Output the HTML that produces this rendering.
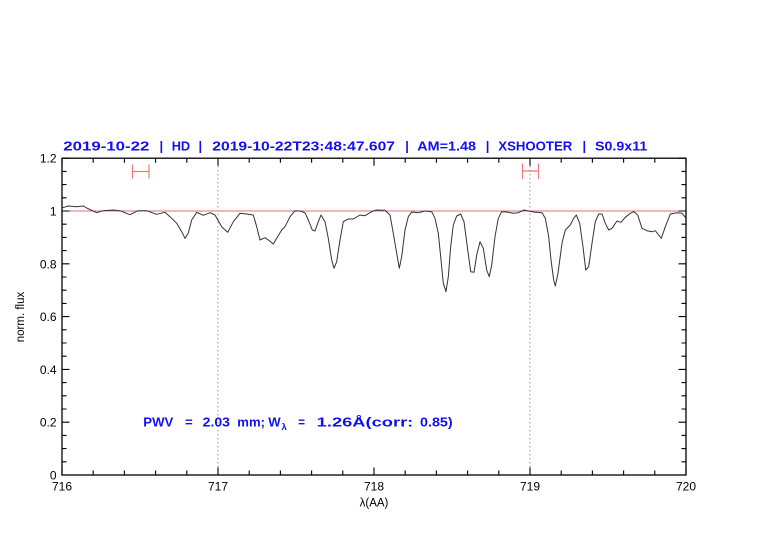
<!DOCTYPE html>
<html>
<head>
<meta charset="utf-8">
<style>
  html, body { margin: 0; padding: 0; background: #ffffff; }
  svg { display: block; }
  text { font-family: "Liberation Sans", "DejaVu Sans", sans-serif; }
</style>
</head>
<body>
<svg width="782" height="542" viewBox="0 0 782 542" xmlns="http://www.w3.org/2000/svg">
  <rect width="782" height="542" fill="#ffffff"/>

  <!-- Title -->
  <g font-size="13" font-weight="bold" fill="#1010f0">
    <text x="63.3" y="150.3" textLength="86" lengthAdjust="spacingAndGlyphs">2019-10-22</text>
    <text x="159.5" y="150.3">|</text>
    <text x="171.7" y="150.3" textLength="18.5" lengthAdjust="spacingAndGlyphs">HD</text>
    <text x="198.5" y="150.3">|</text>
    <text x="212.3" y="150.3" textLength="182.7" lengthAdjust="spacingAndGlyphs">2019-10-22T23:48:47.607</text>
    <text x="405.2" y="150.3">|</text>
    <text x="417.3" y="150.3" textLength="58.7" lengthAdjust="spacingAndGlyphs">AM=1.48</text>
    <text x="485.8" y="150.3">|</text>
    <text x="498.3" y="150.3" textLength="74" lengthAdjust="spacingAndGlyphs">XSHOOTER</text>
    <text x="582.5" y="150.3">|</text>
    <text x="595" y="150.3" textLength="52.3" lengthAdjust="spacingAndGlyphs">S0.9x11</text>
  </g>

  <!-- error bars -->
  <g stroke="#f07878" stroke-width="1.2" fill="none">
    <path d="M132.5 171.5H149 M132.5 164.5V178.5 M149 164.5V178.5"/>
    <path d="M522.5 171H538.5 M522.5 163.5V179 M538.5 163.5V179"/>
  </g>

  <!-- dotted vertical lines -->
  <g stroke="#555" stroke-width="0.9" stroke-dasharray="1 3" fill="none">
    <path d="M218 158.2V475 M530 158.2V475"/>
  </g>

  <!-- reference line at 1 -->
  <path d="M62 211H686" stroke="#e07070" stroke-width="1" fill="none"/>

  <!-- spectrum -->
  <polyline fill="none" stroke="#333333" stroke-width="1" stroke-linejoin="round" points="
62.7,207.7 68.3,206 76.7,206.7 83.3,206 86.7,208 96.7,212.7 103,210.7 113,210 120,210.7 130,214.7 138,210.7 146.7,210.7 156.7,214.3 165,212.3 170,216.7 176.7,223.3 181.7,231.7 185,238.3 188.3,233 191.7,220 196.7,212.3 203.3,215.3 210,212.7 215,215 221.7,226.7 227.7,232.3 233.3,221.7 240,213.3 246.7,214 253.3,215 256.7,226.7 260,240 265,237.7 268.3,240 273.3,244 276.7,238.3 281.7,230 285,226.7 290,216.7 295,210.7 300,211 305,212.7 308.3,220 312.3,230 315,231 318.3,221.7 321,215 325,221.7 328.3,238.3 331.7,260 334,268.3 336.7,261.7 340,240 343.3,221.7 348.3,219 353.3,219 360,215 365,215.7 370,212.7 373.3,211 376.7,210 385,210.3 390,215 393.3,233.3 396.7,253.3 399.3,268.3 401.7,256.7 405,230 408.3,216.7 411.7,212 418.3,212.7 425,211 431.7,211.7 435,218.3 438.3,233.3 440.7,256.7 443.3,283.3 446,291.7 448.3,276.7 450.7,246.7 453.3,225 456.7,216 460.7,214 464,221.7 467.3,246.7 470.7,271.7 474,272.3 476.7,255 480,241.7 483.3,248.3 486.7,270 489.3,276.7 491.7,265 495,236.7 498.3,218.3 501.7,211.7 506.7,212 513.3,213.3 518.3,212.7 524,210 528.3,211 533.7,212 542,212.7 545.3,218.3 548.7,236.7 551,260 553.7,280 555.3,286 558,273.3 562,243.3 565.3,230 570.3,225 573.7,218.3 576.3,215 579.7,223.3 583,246.7 585.7,270 588.7,266.7 592,243.3 595.3,221.7 598.7,214 602,214 605.3,223.3 608.7,230 612,228.3 617,221 621,222.3 625.3,217.3 630.3,213.3 633.7,211.7 637.7,215 642,228.3 647,230.7 652,231.7 655.3,230.7 658.7,235 661.3,238.3 665.3,226.7 670.3,214 677,212.7 682,213.3 686,218"/>

  <!-- frame -->
  <rect x="62" y="158.2" width="624" height="316.8" fill="none" stroke="#000" stroke-width="1.3"/>

  <!-- ticks -->
  <g stroke="#000" stroke-width="1.1" fill="none">
    <path d="M62 475v-7.5 M218 475v-7.5 M374 475v-7.5 M530 475v-7.5 M686 475v-7.5
             M62 158.2v7.5 M218 158.2v7.5 M374 158.2v7.5 M530 158.2v7.5 M686 158.2v7.5"/>
    <path d="M93.2 475v-4.5 M124.4 475v-4.5 M155.6 475v-4.5 M186.8 475v-4.5
             M249.2 475v-4.5 M280.4 475v-4.5 M311.6 475v-4.5 M342.8 475v-4.5
             M405.2 475v-4.5 M436.4 475v-4.5 M467.6 475v-4.5 M498.8 475v-4.5
             M561.2 475v-4.5 M592.4 475v-4.5 M623.6 475v-4.5 M654.8 475v-4.5"/>
    <path d="M93.2 158.2v4.5 M124.4 158.2v4.5 M155.6 158.2v4.5 M186.8 158.2v4.5
             M249.2 158.2v4.5 M280.4 158.2v4.5 M311.6 158.2v4.5 M342.8 158.2v4.5
             M405.2 158.2v4.5 M436.4 158.2v4.5 M467.6 158.2v4.5 M498.8 158.2v4.5
             M561.2 158.2v4.5 M592.4 158.2v4.5 M623.6 158.2v4.5 M654.8 158.2v4.5"/>
    <path d="M62 475h7.5 M62 422.2h7.5 M62 369.4h7.5 M62 316.6h7.5 M62 263.8h7.5 M62 211h7.5 M62 158.2h7.5
             M686 475h-7.5 M686 422.2h-7.5 M686 369.4h-7.5 M686 316.6h-7.5 M686 263.8h-7.5 M686 211h-7.5 M686 158.2h-7.5"/>
    <path d="M62 461.8h4.5 M62 448.6h4.5 M62 435.4h4.5
             M62 409h4.5 M62 395.8h4.5 M62 382.6h4.5
             M62 356.2h4.5 M62 343h4.5 M62 329.8h4.5
             M62 303.4h4.5 M62 290.2h4.5 M62 277h4.5
             M62 250.6h4.5 M62 237.4h4.5 M62 224.2h4.5
             M62 197.8h4.5 M62 184.6h4.5 M62 171.4h4.5"/>
    <path d="M686 461.8h-4.5 M686 448.6h-4.5 M686 435.4h-4.5
             M686 409h-4.5 M686 395.8h-4.5 M686 382.6h-4.5
             M686 356.2h-4.5 M686 343h-4.5 M686 329.8h-4.5
             M686 303.4h-4.5 M686 290.2h-4.5 M686 277h-4.5
             M686 250.6h-4.5 M686 237.4h-4.5 M686 224.2h-4.5
             M686 197.8h-4.5 M686 184.6h-4.5 M686 171.4h-4.5"/>
  </g>

  <!-- x tick labels -->
  <g font-size="12" fill="#000" text-anchor="middle">
    <text x="62" y="490.5">716</text>
    <text x="218" y="490.5">717</text>
    <text x="374" y="490.5">718</text>
    <text x="530" y="490.5">719</text>
    <text x="686" y="490.5">720</text>
  </g>

  <!-- y tick labels -->
  <g font-size="12" fill="#000" text-anchor="end">
    <text x="56.5" y="479.5">0</text>
    <text x="56.5" y="426.7">0.2</text>
    <text x="56.5" y="373.9">0.4</text>
    <text x="56.5" y="321.1">0.6</text>
    <text x="56.5" y="268.3">0.8</text>
    <text x="56.5" y="215.5">1</text>
    <text x="56.5" y="162.7">1.2</text>
  </g>

  <!-- axis labels -->
  <text x="374" y="506.5" font-size="11.5" fill="#000" text-anchor="middle">λ(AA)</text>
  <text transform="translate(24,317) rotate(-90)" font-size="11.5" fill="#000" text-anchor="middle">norm. flux</text>

  <!-- PWV annotation -->
  <g fill="#1010f0" font-weight="bold" font-size="12.5">
    <text x="143.3" y="426.3" textLength="30" lengthAdjust="spacingAndGlyphs">PWV</text>
    <text x="185" y="426.3" textLength="7.7" lengthAdjust="spacingAndGlyphs">=</text>
    <text x="202.7" y="426.3" textLength="27.3" lengthAdjust="spacingAndGlyphs">2.03</text>
    <text x="237.3" y="426.3" textLength="27.7" lengthAdjust="spacingAndGlyphs">mm;</text>
    <text x="268.3" y="426.3" textLength="12.4" lengthAdjust="spacingAndGlyphs">W</text>
    <text x="281.5" y="429.8" font-size="9.5">λ</text>
    <text x="298.3" y="426.3" textLength="6.7" lengthAdjust="spacingAndGlyphs">=</text>
    <text x="316.7" y="426.3" textLength="96.6" lengthAdjust="spacingAndGlyphs">1.26Å(corr:</text>
    <text x="420" y="426.3" textLength="32.7" lengthAdjust="spacingAndGlyphs">0.85)</text>
  </g>
</svg>
</body>
</html>
